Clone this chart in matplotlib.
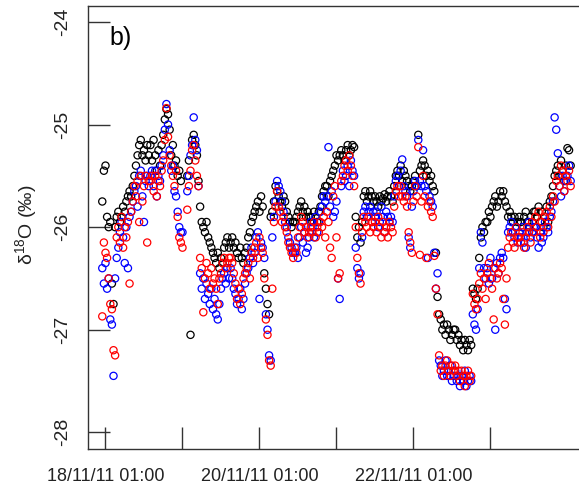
import numpy as np
import matplotlib
matplotlib.use("Agg")
import matplotlib.pyplot as plt
from datetime import datetime, timedelta

plt.rcParams['font.family'] = ['Liberation Sans', 'DejaVu Sans']
plt.rcParams['axes.unicode_minus'] = False
plt.rcParams['mathtext.fontset'] = 'custom'
plt.rcParams['mathtext.rm'] = 'Liberation Sans'
plt.rcParams['mathtext.it'] = 'Liberation Sans:italic'

nan = np.nan
base = datetime(2011, 11, 18, 1, 0)
start_hour = -1.0
step_hours = 0.5

black_vals = [
    -25.75, -25.45, -25.4, -25.9, -26.0, -25.95, -26.55, -26.75, -26.0, -25.9,
    -25.85, -25.95, -25.9, -25.8, -25.85, -25.75, -25.7, -25.65, -25.7, -25.6,
    -25.5, -25.4, -25.3, -25.2, -25.15, -25.3, -25.25, -25.35, -25.2, -25.3,
    -25.2, -25.35, -25.15, -25.3, -25.45, -25.25, -25.4, -25.2, -25.1, -24.95,
    -24.85, -24.9, -25.05, -25.3, -25.2, -25.4, -25.35, -25.5, -25.45, -25.55,
    nan, nan, nan, -25.5, -25.35, -27.05, -25.15, -25.1, -25.2, -25.3,
    -25.55, -25.8, -25.95, -26.0, -26.05, -25.95, -26.1, -26.15, -26.2, -26.25,
    -26.3, -26.35, -26.25, -26.4, -26.3, -26.35, -26.2, -26.15, -26.1, -26.2,
    -26.15, -26.1, -26.2, -26.15, -26.25, -26.3, -26.2, -26.3, -26.35, -26.25,
    -26.2, -26.1, -26.05, -25.95, -25.9, -25.85, -25.8, -25.75, -25.85, -25.7,
    -25.8, -26.45, -26.6, -26.75, -26.85, -25.9, -25.85, -25.75, -25.6, -25.65,
    -25.7, -25.75, -25.8, -25.7, -25.75, -25.85, -25.9, -25.95, -26.0, -25.95,
    -25.95, -25.9, -25.85, -25.8, -25.75, -25.85, -25.8, -25.9, -25.85, -25.9,
    -25.9, -25.95, -25.85, -25.9, -25.95, -25.85, -25.8, -25.7, -25.65, -25.6,
    -25.6, -25.7, -25.55, -25.5, -25.45, -25.4, -25.3, -25.35, -25.3, -25.25,
    -25.3, -25.35, -25.25, -25.2, -25.3, -25.25, -25.2, -25.22, -25.9, -26.1,
    -26.0, -26.15, -25.95, -25.7, -25.65, -25.75, -25.7, -25.65, -25.7, -25.75,
    -25.7, -25.75, -25.8, -25.7, -25.75, -25.72, -25.68, -25.75, -25.7, -25.65,
    -25.7, -25.75, -25.6, -25.5, -25.45, -25.5, -25.4, -25.55, -25.45, -25.5,
    -25.55, -25.6, -25.65, -25.6, -25.55, -25.5, -25.6, -25.1, -25.45, -25.4,
    -25.35, -25.4, -25.5, -25.45, -25.55, -25.5, -25.6, -25.65, -26.25, -26.68,
    -26.85, -26.9, -27.0, -26.95, -27.05, -26.95, -27.0, -27.1, -27.05, -27.0,
    -27.0, -27.1, -27.05, -27.15, -27.1, -27.2, -27.1, -27.15, -27.2, -27.1,
    -27.15, -26.6, -26.65, -26.7, -26.6, -26.3, -26.1, -26.0, -26.05, -25.95,
    -25.95, -25.85, -25.9, -25.8, -25.75, -25.7, -25.8, -25.75, -25.65, -25.7,
    -25.65, -25.75, -25.8, -25.9, -25.85, -25.9, -25.95, -25.9, -26.0, -25.95,
    -25.9, -25.95, -26.0, -25.9, -25.85, -25.95, -26.0, -25.9, -25.95, -25.85,
    -25.85, -25.9, -25.8, -25.95, -25.85, -26.0, -25.9, -25.8, -25.95, -25.75,
    -25.7, -25.6, -25.5, -25.45, -25.4, -25.5, -25.35, -25.45, -25.55, -25.4,
    -25.23, -25.25, -25.4, nan,
]

blue_vals = [
    -26.4, -26.55, -26.35, -26.6, -26.5, -26.9, -26.95, -27.45, -26.5, -26.3,
    -26.2, -26.05, -25.95, -26.1, -26.35, -26.0, -26.4, -25.9, -25.85, -25.75,
    -25.65, -25.6, -25.8, -25.5, -25.45, -25.7, -25.95, -25.55, -25.5, -25.6,
    -25.5, -25.45, -25.6, -25.45, -25.7, -25.5, -25.55, -25.4, -25.3, -25.05,
    -24.8, -25.0, -25.25, -25.45, -25.4, -25.65, -25.7, -25.85, -26.0, -26.05,
    -26.05, nan, nan, -25.65, -25.5, -25.3, -25.2, -24.93, -25.15, -25.25,
    -25.6, -26.45, -26.6, -26.5, -26.7, -26.55, -26.65, -26.75, -26.6, -26.8,
    -26.7, -26.85, -26.9, -26.75, -26.6, -26.5, -26.45, -26.55, -26.4, -26.5,
    -26.4, -26.5, -26.6, -26.65, -26.75, -26.7, -26.6, -26.8, -26.7, -26.55,
    -26.45, -26.4, -26.3, -26.2, -26.35, -26.25, -26.1, -26.05, -26.7, -26.15,
    -26.2, -26.3, -26.85, -27.0, -27.25, -27.3, -26.1, -25.9, -25.75, -25.55,
    -25.6, -25.65, -25.75, -25.85, -25.95, -26.0, -26.1, -26.15, -26.2, -26.25,
    -26.25, -26.2, -26.3, -26.1, -26.0, -26.15, -26.05, -26.25, -26.2, -26.1,
    -25.95, -26.0, -26.1, -25.9, -26.05, -25.95, -25.85, -25.8, -25.7, -25.75,
    -25.7, -25.22, -25.8, -25.65, -25.9, -25.85, -25.75, -26.5, -26.7, -25.6,
    -25.45, -25.55, -25.5, -25.4, -25.6, -25.35, -25.45, -25.5, -26.2, -26.4,
    -26.5, -26.45, -26.1, -25.85, -25.8, -25.9, -25.85, -25.8, -25.95, -25.85,
    -25.9, -25.85, -26.0, -25.95, -25.8, -25.9, -26.05, -25.85, -25.9, -25.95,
    -25.9, -25.95, -25.7, -25.55, -25.5, -25.6, -25.45, -25.34, -25.6, -25.65,
    -25.7, -26.1, -26.2, -25.8, -25.65, -25.55, -25.6, -25.15, -25.55, -25.6,
    -25.25, -25.6, -25.65, -26.3, -25.7, -25.75, -25.8, -26.25, -26.6, -26.45,
    -27.3, -27.35, -27.45, -27.4, -27.3, -27.45, -27.4, -27.35, -27.5, -27.45,
    -27.4, -27.5, -27.45, -27.55, -27.45, -27.5, -27.4, -27.55, -27.5, -27.45,
    -27.5, -26.85, -26.95, -27.0, -26.8, -26.4, -26.05, -26.15, -26.4, -26.5,
    -26.4, -26.55, -26.3, -26.5, -26.4, -27.0, -26.35, -26.45, -26.3, -26.25,
    -26.3, -26.7, -26.8, -26.05, -26.0, -25.95, -26.05, -26.1, -26.0, -26.15,
    -26.05, -26.1, -26.0, -26.15, -26.2, -26.05, -25.95, -26.1, -26.05, -26.0,
    -26.0, -26.1, -26.2, -26.05, -26.15, -26.1, -25.95, -26.0, -26.05, -25.9,
    -25.85, -25.75, -24.93, -25.05, -25.28, -25.6, -25.7, -25.5, -25.65, -25.55,
    -25.5, -25.4, -25.55, nan,
]

red_vals = [
    -26.87, -26.15, -26.25, -26.3, -26.5, -26.75, -26.8, -27.2, -27.25, -26.1,
    -26.0, -26.15, -25.9, -26.2, -26.0, -26.1, -25.95, -26.55, -25.85, -25.75,
    -25.6, -25.7, -25.55, -25.95, -25.5, -25.75, -25.6, -25.5, -26.15, -25.55,
    -25.55, -25.5, -25.65, -25.5, -25.7, -25.55, -25.6, -25.45, -25.35, -25.15,
    -24.84, -25.12, -25.3, -25.4, -25.5, -25.6, -25.45, -25.9, -26.1, -26.15,
    -26.2, nan, nan, -25.83, -25.6, -25.45, -25.25, -25.2, -25.35, -25.5,
    -25.6, -26.3, -26.4, -26.83, -26.5, -26.35, -26.45, -26.6, -26.4, -26.55,
    -26.5, -26.6, -26.75, -26.5, -26.45, -26.35, -26.3, -26.4, -26.35, -26.3,
    -26.3, -26.35, -26.45, -26.55, -26.7, -26.6, -26.75, -26.65, -26.5, -26.45,
    -26.4, -26.35, -26.5, -26.25, -26.3, -26.2, -26.15, -26.3, -26.1, -26.2,
    -26.25, -26.5, -26.9, -27.05, -27.3, -27.35, -26.6, -25.95, -25.8, -25.65,
    -25.8, -25.85, -25.95, -25.9, -26.0, -26.05, -26.15, -26.2, -26.25, -26.3,
    -26.2, -26.25, -26.1, -26.0, -25.9, -25.95, -26.05, -26.0, -26.1, -26.05,
    -26.0, -26.05, -25.95, -26.1, -26.0, -26.05, -25.95, -26.0, -25.9, -26.1,
    -25.85, -25.95, -26.2, -26.3, -25.7, -25.6, -26.1, -26.5, -26.45, -25.55,
    -25.5, -25.4, -25.35, -25.45, -25.3, -25.4, -25.5, -25.6, -26.0, -26.3,
    -26.45, -26.55, -26.05, -25.9, -25.95, -26.0, -25.9, -26.05, -25.95, -26.0,
    -25.95, -26.05, -25.9, -26.0, -26.1, -25.95, -26.05, -26.0, -26.1, -25.95,
    -26.0, -26.05, -25.8, -25.65, -25.6, -25.7, -25.6, -25.7, -25.75, -25.7,
    -25.8, -26.05, -26.15, -26.25, -25.75, -25.6, -25.7, -25.22, -26.27, -25.75,
    -25.5, -25.7, -26.3, -25.8, -25.75, -25.85, -25.9, -26.28, -26.6, -26.85,
    -27.25, -27.4, -27.35, -27.45, -27.35, -27.3, -27.4, -27.45, -27.35, -27.4,
    -27.35, -27.45, -27.4, -27.5, -27.4, -27.45, -27.55, -27.45, -27.4, -27.5,
    -27.45, -26.65, -26.75, -26.8, -26.7, -26.55, -26.45, -26.6, -26.5, -26.7,
    -26.45, -26.35, -26.5, -26.6, -26.9, -26.4, -26.5, -26.45, -26.35, -26.4,
    -26.7, -26.95, -26.5, -26.2, -26.1, -26.05, -26.15, -26.2, -26.0, -26.1,
    -26.1, -26.15, -26.05, -26.2, -26.1, -26.0, -26.05, -26.15, -25.95, -26.05,
    -25.9, -26.0, -25.85, -26.1, -25.95, -26.05, -25.9, -25.85, -26.0, -25.8,
    -25.9, -25.7, -25.75, -25.55, -25.5, -25.6, -25.4, -25.45, -25.65, -25.5,
    -25.55, -25.45, -25.6, nan,
]

y_ticks = [-28, -27, -26, -25, -24]
x_tick_days = [0, 1, 2, 3, 4, 5]
x_tick_labels = ['18/11/11 01:00', '', '20/11/11 01:00', '', '22/11/11 01:00', '']


def times_for(vals):
    return [base + timedelta(hours=start_hour + step_hours * i) for i in range(len(vals))]


W, H = 579, 492
fig = plt.figure(figsize=(W / 100, H / 100), dpi=100)
ax = fig.add_axes([88 / W, (H - 449) / H, (W - 88) / W, 443 / H])

for vals, col in [(black_vals, 'black'), (blue_vals, '#0000ff'), (red_vals, '#ff0000')]:
    ax.scatter(times_for(vals), vals, s=27, facecolors='none', edgecolors=col,
               linewidths=0.9, zorder=3)

ax.set_xlim(base + timedelta(hours=-5.45), base + timedelta(hours=147.6))
ax.set_ylim(-28.163, -23.844)

ax.set_xticks([base + timedelta(days=d) for d in x_tick_days])
ax.set_xticklabels(x_tick_labels)
ax.set_yticks(y_ticks)
ax.set_yticklabels([str(v) for v in y_ticks], rotation=90, va='center')

spine_col = '#333333'
for s in ['left', 'bottom', 'top']:
    ax.spines[s].set_color(spine_col)
    ax.spines[s].set_linewidth(1.0)
ax.spines['right'].set_visible(False)

ax.tick_params(axis='both', direction='in', length=15.8, width=1.0, color=spine_col)
ax.tick_params(axis='x', labelsize=13, pad=13.5, labelcolor='#222222')
ax.tick_params(axis='y', labelsize=14, pad=12.5, labelcolor='#222222')

fig.text(26 / W, 1 - 225 / H, r'$\mathrm{\delta}^{18}$O (‰)', rotation=90,
         ha='center', va='center', fontsize=14, color='#222222')
fig.text(109 / W, 1 - 38 / H, 'b)', ha='left', va='center', fontsize=18, color='black')

fig.savefig('out.png', dpi=100)
